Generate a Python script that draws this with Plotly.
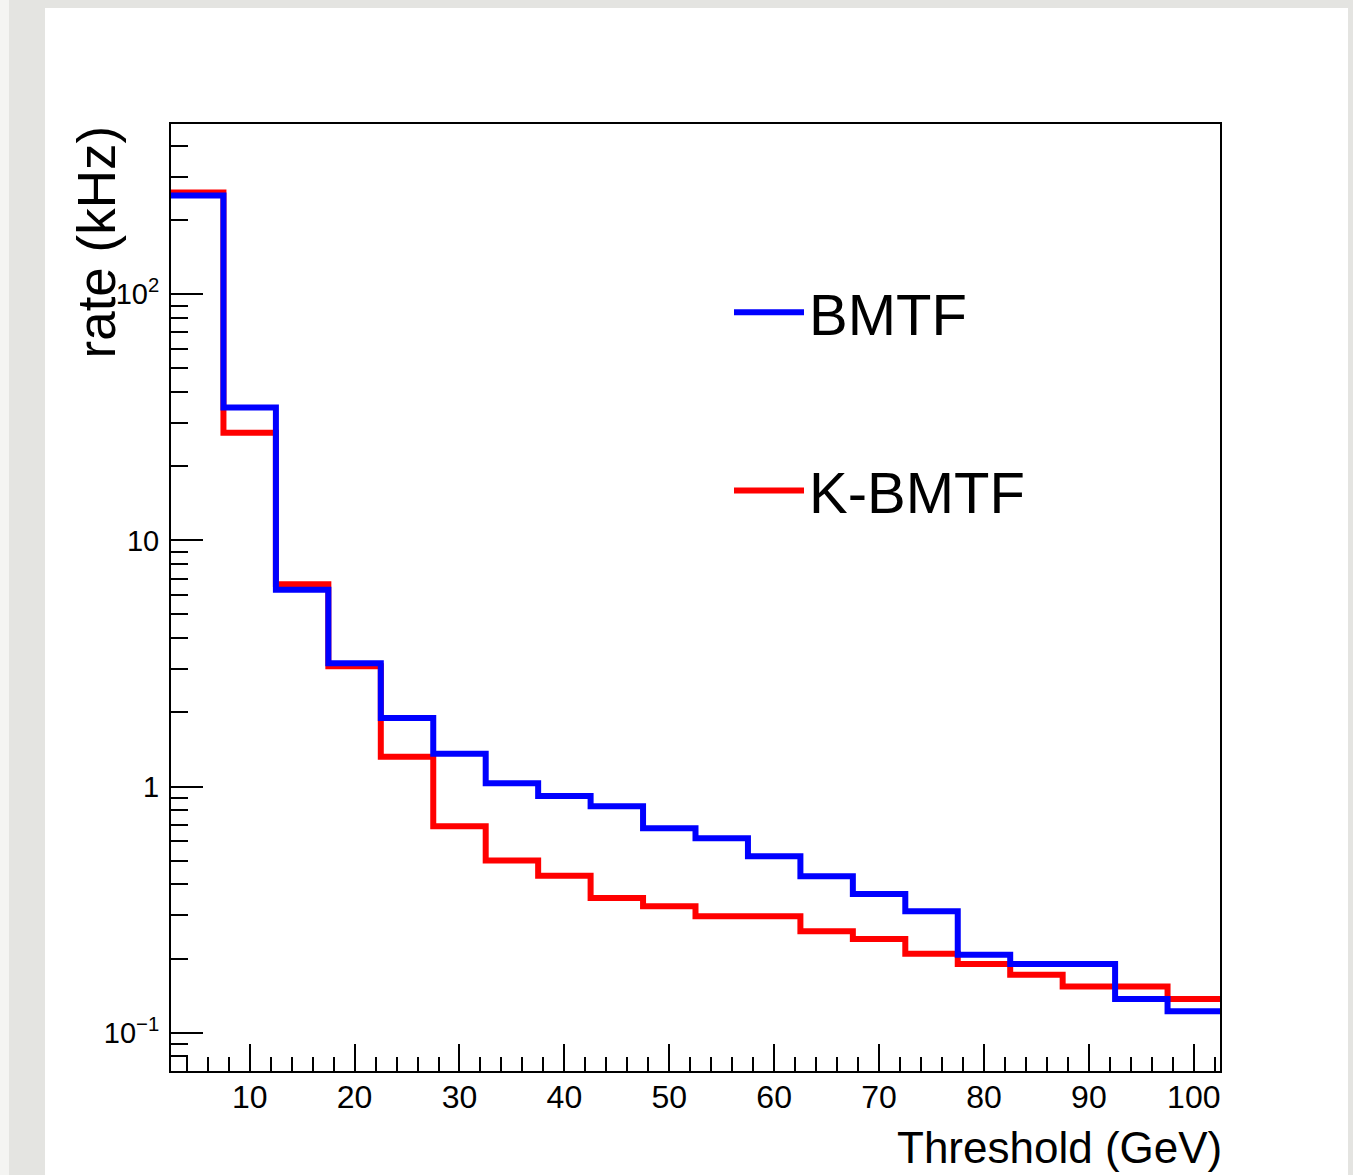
import plotly.graph_objects as go

# ---- data ----
thresholds = [5, 10, 15, 20, 25, 30, 35, 40, 45, 50, 55, 60, 65, 70, 75, 80, 85, 90, 95, 100]  # bin centres (GeV)
bin_width = 5.0
bmtf = [252, 34.7, 6.3, 3.17, 1.90, 1.36, 1.03, 0.914, 0.832, 0.676,
        0.616, 0.521, 0.432, 0.366, 0.311, 0.207, 0.190, 0.190, 0.137, 0.122]
kbmtf = [259, 27.4, 6.63, 3.08, 1.32, 0.69, 0.50, 0.434, 0.352, 0.326,
         0.297, 0.297, 0.258, 0.240, 0.209, 0.190, 0.172, 0.154, 0.154, 0.137]
series_names = ["BMTF", "K-BMTF"]
series_colors = ["#0000ff", "#ff0000"]
x_tick_vals = [10, 20, 30, 40, 50, 60, 70, 80, 90, 100]
y_tick_vals = [0.1, 1, 10, 100]
y_tick_text = ["10<sup>\u22121</sup>", "1", "10", "10<sup>2</sup>"]

edges = [c - bin_width / 2 for c in thresholds] + [thresholds[-1] + bin_width / 2]

def steps(vals):
    return list(vals) + [vals[-1]]

FONT = "Liberation Sans, Arial, Helvetica, sans-serif"

fig = go.Figure()
# red drawn first (blue sits on top)
fig.add_trace(go.Scatter(x=edges, y=steps(kbmtf), mode="lines", name=series_names[1],
                         line=dict(color=series_colors[1], width=6, shape="hv"),
                         legendrank=2, legendgroup="b"))
fig.add_trace(go.Scatter(x=edges, y=steps(bmtf), mode="lines", name=series_names[0],
                         line=dict(color=series_colors[0], width=6, shape="hv"),
                         legendrank=1, legendgroup="a"))

# minor tick positions for log axis
y_minor = []
for p in range(-2, 3):
    for m in range(2, 10):
        y_minor.append(m * 10 ** p)

L, R, T, B = 171, 133, 124, 104
W, H = 1353, 1175
pw, ph = W - L - R, H - T - B

def px(xp):
    return (xp - L) / pw

def py(yp):
    return (H - B - yp) / ph

fig.update_layout(
    width=W, height=H,
    margin=dict(l=L, r=R, t=T, b=B),
    paper_bgcolor="#e4e4e1",
    plot_bgcolor="white",
    showlegend=True,
    legend=dict(x=px(729), y=py(268), xanchor="left", yanchor="top",
                bgcolor="rgba(0,0,0,0)", borderwidth=0,
                font=dict(family=FONT, size=58, color="black"),
                tracegroupgap=100, itemwidth=70),
    xaxis=dict(range=[2.5, 102.5], tickmode="array", tickvals=x_tick_vals,
               ticks="inside", ticklen=27, tickwidth=2, tickcolor="black",
               showline=True, linewidth=2, linecolor="black", mirror=True,
               showgrid=False, zeroline=False,
               tickfont=dict(family=FONT, size=32, color="black"),
               ticklabelstandoff=-3,
               minor=dict(tickmode="linear", tick0=0, dtick=2, ticks="inside",
                          ticklen=14, tickwidth=2, tickcolor="black", showgrid=False)),
    yaxis=dict(type="log", range=[-1.156, 2.692], tickmode="array",
               tickvals=y_tick_vals, ticktext=y_tick_text,
               ticks="inside", ticklen=32, tickwidth=2, tickcolor="black",
               showline=True, linewidth=2, linecolor="black", mirror=True,
               showgrid=False, zeroline=False,
               tickfont=dict(family=FONT, size=29, color="black"),
               ticklabelstandoff=4,
               minor=dict(tickmode="array", tickvals=y_minor, ticks="inside",
                          ticklen=17, tickwidth=2, tickcolor="black", showgrid=False)),
    shapes=[
        dict(type="rect", xref="paper", yref="paper", layer="below",
             x0=px(45), x1=px(1348), y0=py(1200), y1=py(8),
             fillcolor="white", line=dict(width=0)),
        dict(type="rect", xref="paper", yref="paper", layer="below",
             x0=px(0), x1=px(9), y0=py(1200), y1=py(-10),
             fillcolor="#f4f4f2", line=dict(width=0)),
    ],
    annotations=[
        dict(text="rate (kHz)", textangle=-90, xref="paper", yref="paper",
             x=px(96), y=1.0, xanchor="center", yanchor="top", showarrow=False,
             font=dict(family=FONT, size=53, color="black")),
        dict(text="Threshold (GeV)", xref="paper", yref="paper",
             x=1.0, y=py(1147), xanchor="right", yanchor="middle", showarrow=False,
             xshift=4,
             font=dict(family=FONT, size=44, color="black")),
    ],
)

fig.write_html("out.html", config={"displayModeBar": False},
               post_script="document.body.style.margin='0';")
